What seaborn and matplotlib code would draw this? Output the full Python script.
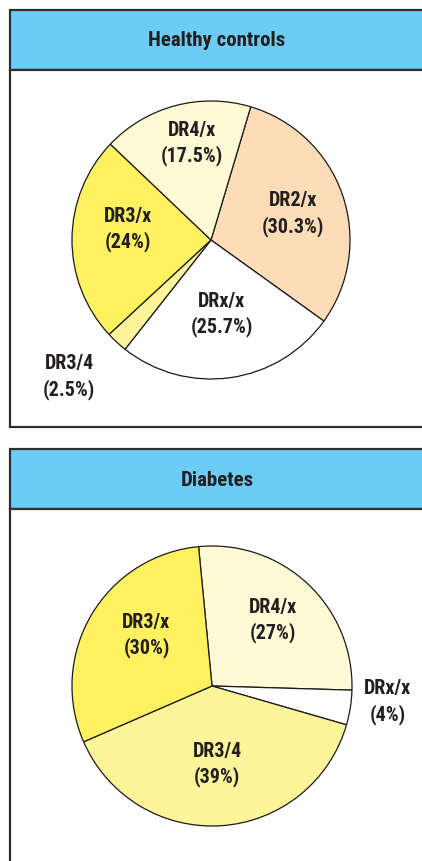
import numpy as np
import matplotlib
matplotlib.use("Agg")
import matplotlib.pyplot as plt
import matplotlib.patches as mpatches
import seaborn as sns

# data
healthy_labels = ["DR2/x", "DRx/x", "DR3/4", "DR3/x", "DR4/x"]
healthy_pct = [30.3, 25.7, 2.5, 24, 17.5]
healthy_pct_text = ["30.3%", "25.7%", "2.5%", "24%", "17.5%"]

diabetes_labels = ["DR4/x", "DRx/x", "DR3/4", "DR3/x"]
diabetes_pct = [27, 4, 39, 30]
diabetes_pct_text = ["27%", "4%", "39%", "30%"]

titles = ["Healthy controls", "Diabetes"]

sns.set_theme(style="white")
plt.rcParams["font.family"] = ["Roboto Condensed", "Liberation Sans", "DejaVu Sans"]

W, H = 422, 861
fig = plt.figure(figsize=(W / 100, H / 100), dpi=100)

# background axis in pixel coords for panel frames
bg = fig.add_axes([0, 0, 1, 1])
bg.set_xlim(0, W)
bg.set_ylim(H, 0)
bg.axis("off")

edge = "#2f2f2f"
blue = "#6bcdf5"
txt = "#231f20"

panels = [(10, 70, 427), (449, 509, 875)]
for (top, hdr, bottom), title in zip(panels, titles):
    bg.add_patch(mpatches.Rectangle((10, top), 430, hdr - top, facecolor=blue,
                                    edgecolor=edge, lw=1.6))
    bg.add_patch(mpatches.Rectangle((10, hdr), 430, bottom - hdr, facecolor="white",
                                    edgecolor=edge, lw=1.6))
    bg.text(217, (top + hdr) / 2 + 1, title, ha="center", va="center",
            fontsize=15, fontweight="bold", color=txt)


def draw_pie(cx, cy, r, vals, labels, pcts, colors, start, dists, shifts):
    ax = fig.add_axes([(cx - r) / W, 1 - (cy + r) / H, 2 * r / W, 2 * r / H])
    wedges, _ = ax.pie(vals, colors=colors, startangle=start, counterclock=False,
                       radius=1, wedgeprops=dict(edgecolor="#1a1a1a", linewidth=0.9))
    ax.set_xlim(-1, 1)
    ax.set_ylim(-1, 1)
    ax.axis("off")
    for w, lab, p, d, s in zip(wedges, labels, pcts, dists, shifts):
        a = np.deg2rad((w.theta1 + w.theta2) / 2 + s)
        ax.text(d * np.cos(a), d * np.sin(a), f"{lab}\n({p})", ha="center",
                va="center", fontsize=14.5, fontweight="bold", color=txt,
                linespacing=1.35, clip_on=False)


draw_pie(211, 240, 139, healthy_pct, healthy_labels, healthy_pct_text,
         ["#fddcb7", "#ffffff", "#fef59a", "#fff15f", "#fffad6"],
         73.4, [0.62, 0.54, 1.42, 0.60, 0.71], [-1.3, 0, -3.3, -7, -3.6])

draw_pie(212, 686, 140, diabetes_pct, diabetes_labels, diabetes_pct_text,
         ["#fffad6", "#ffffff", "#fef59a", "#fff15f"],
         95.5, [0.64, 1.26, 0.56, 0.59], [0, 3.7, 0, -7])

fig.savefig("out.png", dpi=100)
